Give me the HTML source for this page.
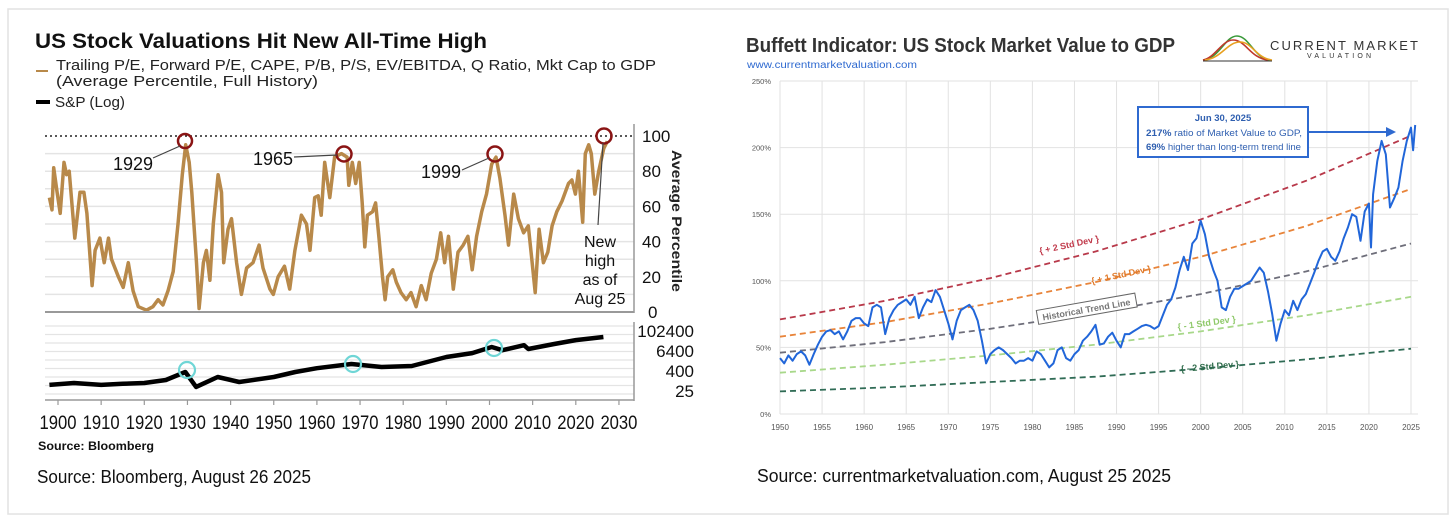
<!DOCTYPE html>
<html><head><meta charset="utf-8">
<style>
html,body{margin:0;padding:0;background:#fff;}
svg{display:block;font-family:"Liberation Sans",sans-serif;}
</style></head>
<body>
<svg id="root" width="1456" height="523" viewBox="0 0 1456 523" xmlns="http://www.w3.org/2000/svg">
  <rect x="8" y="9" width="1440" height="505" fill="#fff" stroke="#e2e2e2" stroke-width="1.5"/>

  <!-- LEFT CHART -->
  <g id="left">
    <text x="35" y="48" font-size="21" font-weight="bold" fill="#111" textLength="452" lengthAdjust="spacingAndGlyphs">US Stock Valuations Hit New All-Time High</text>
    <line x1="36" y1="71" x2="48" y2="71" stroke="#b8894a" stroke-width="2"/>
    <text x="56" y="70" font-size="15" fill="#222" textLength="600" lengthAdjust="spacingAndGlyphs">Trailing P/E, Forward P/E, CAPE, P/B, P/S, EV/EBITDA, Q Ratio, Mkt Cap to GDP</text>
    <text x="56" y="86" font-size="15" fill="#222" textLength="262" lengthAdjust="spacingAndGlyphs">(Average Percentile, Full History)</text>
    <line x1="36" y1="102" x2="50" y2="102" stroke="#000" stroke-width="4"/>
    <text x="55" y="107" font-size="15" fill="#222" textLength="70" lengthAdjust="spacingAndGlyphs">S&amp;P (Log)</text>
    <g id="lgrid"></g>
    <line x1="45" y1="136" x2="634" y2="136" stroke="#222" stroke-width="1.5" stroke-dasharray="2,3"/>
    <path id="pctPath" fill="none" stroke="#b8894a" stroke-width="3.5" stroke-linejoin="round"/>
    <path id="spPath" fill="none" stroke="#000" stroke-width="4.5" stroke-linejoin="round"/>
    <line x1="634" y1="124" x2="634" y2="313" stroke="#999" stroke-width="1.5"/>
    <line x1="45" y1="312" x2="634" y2="312" stroke="#999" stroke-width="2"/>
    <line x1="634" y1="322" x2="634" y2="401" stroke="#999" stroke-width="1.5"/>
    <line x1="45" y1="400" x2="634" y2="400" stroke="#999" stroke-width="1.5"/>
    <g id="lticks"></g>
    <text transform="translate(672,150) rotate(90)" font-size="14" font-weight="bold" fill="#222" textLength="142" lengthAdjust="spacingAndGlyphs">Average Percentile</text>
    <!-- annotations -->
    <circle cx="185" cy="141" r="7" fill="none" stroke="#8a1414" stroke-width="2.5"/>
    <circle cx="344" cy="154" r="7.5" fill="none" stroke="#8a1414" stroke-width="2.5"/>
    <circle cx="495" cy="154" r="7.5" fill="none" stroke="#8a1414" stroke-width="2.5"/>
    <circle cx="604" cy="136" r="7.5" fill="none" stroke="#8a1414" stroke-width="2.5"/>
    <line x1="153" y1="158" x2="180" y2="146" stroke="#444" stroke-width="1.2"/>
    <text x="113" y="170" font-size="18" fill="#111" textLength="40" lengthAdjust="spacingAndGlyphs">1929</text>
    <line x1="294" y1="157" x2="337" y2="155" stroke="#444" stroke-width="1.2"/>
    <text x="253" y="165" font-size="18" fill="#111" textLength="40" lengthAdjust="spacingAndGlyphs">1965</text>
    <line x1="462" y1="170" x2="489" y2="158" stroke="#444" stroke-width="1.2"/>
    <text x="421" y="178" font-size="18" fill="#111" textLength="40" lengthAdjust="spacingAndGlyphs">1999</text>
    <line x1="603" y1="143" x2="598" y2="225" stroke="#444" stroke-width="1.2"/>
    <g font-size="16" fill="#111" text-anchor="middle">
      <text x="600" y="247">New</text><text x="600" y="266">high</text><text x="600" y="285">as of</text><text x="600" y="304">Aug 25</text>
    </g>
    <circle cx="187" cy="370" r="8" fill="none" stroke="#6fd6d6" stroke-width="2.2"/>
    <circle cx="353" cy="364" r="8" fill="none" stroke="#6fd6d6" stroke-width="2.2"/>
    <circle cx="494" cy="348" r="8" fill="none" stroke="#6fd6d6" stroke-width="2.2"/>
    <text x="38" y="450" font-size="12" font-weight="bold" fill="#111" textLength="116" lengthAdjust="spacingAndGlyphs">Source: Bloomberg</text>
    <text x="37" y="483" font-size="18" fill="#111" textLength="274" lengthAdjust="spacingAndGlyphs">Source: Bloomberg, August 26 2025</text>
  </g>

  <!-- RIGHT CHART -->
  <g id="right">
    <text x="746" y="52" font-size="20" font-weight="bold" fill="#333" textLength="429" lengthAdjust="spacingAndGlyphs">Buffett Indicator: US Stock Market Value to GDP</text>
    <text x="747" y="68" font-size="10" fill="#2f6ad0" textLength="170" lengthAdjust="spacingAndGlyphs">www.currentmarketvaluation.com</text>
    <g>
      <path d="M1203,60 C1220,58 1225,36 1237,36 C1249,36 1254,58 1270,60" fill="none" stroke="#3a9a3a" stroke-width="1.6"/>
      <path d="M1203,60 C1215,58 1222,40 1233,40 C1246,40 1250,58 1268,60" fill="none" stroke="#c0392b" stroke-width="1.6"/>
      <path d="M1205,60 C1222,58 1227,42 1240,42 C1252,42 1256,58 1272,60" fill="none" stroke="#e8a020" stroke-width="1.6"/>
      <line x1="1203" y1="61" x2="1272" y2="61" stroke="#333" stroke-width="1"/>
      <text x="1270" y="50" font-size="13" fill="#333" textLength="148" lengthAdjust="spacing">CURRENT MARKET</text>
      <text x="1307" y="58" font-size="7" fill="#333" textLength="64" lengthAdjust="spacing">VALUATION</text>
    </g>
    <g id="rgrid"></g>
    <g id="trends"></g>
    <path id="buffPath" fill="none" stroke="#2166d9" stroke-width="2" stroke-linejoin="round"/>
    <g id="rticks"></g>
    <g font-size="9" font-weight="bold">
      <text transform="translate(1040,254) rotate(-12)" fill="#c0394a">{ + 2 Std Dev }</text>
      <text transform="translate(1092,284) rotate(-12)" fill="#e07a2a">{ + 1 Std Dev }</text>
      <g transform="translate(1040,320) rotate(-10)">
        <rect x="-2" y="-10" width="100" height="14" fill="#fff" stroke="#666" stroke-width="1"/>
        <text x="3" y="1" fill="#777">Historical Trend Line</text>
      </g>
      <text transform="translate(1178,330) rotate(-8)" fill="#8fc96a">{ - 1 Std Dev }</text>
      <text transform="translate(1181,372) rotate(-5)" fill="#2e6b4a">{ - 2 Std Dev }</text>
    </g>
    <rect x="1138" y="107" width="170" height="50" fill="#fff" stroke="#2f6ad0" stroke-width="2"/>
    <g font-size="9.5" fill="#2f5fb0">
      <text x="1223" y="121" text-anchor="middle" font-weight="bold">Jun 30, 2025</text>
      <text x="1146" y="136" textLength="156" lengthAdjust="spacingAndGlyphs"><tspan font-weight="bold">217%</tspan> ratio of Market Value to GDP,</text>
      <text x="1146" y="150" textLength="155" lengthAdjust="spacingAndGlyphs"><tspan font-weight="bold">69%</tspan> higher than long-term trend line</text>
    </g>
    <line x1="1308" y1="132" x2="1388" y2="132" stroke="#2f6ad0" stroke-width="2"/>
    <polygon points="1396,132 1386,127 1386,137" fill="#2f6ad0"/>
    <text x="757" y="482" font-size="18" fill="#111" textLength="414" lengthAdjust="spacingAndGlyphs">Source: currentmarketvaluation.com, August 25 2025</text>
  </g>
</svg>
<script>
// ---------- LEFT CHART DATA ----------
const pctYears = [1898,1898.6,1899,1899.8,1900.5,1901.4,1902,1902.6,1903.9,1905.1,1906,1906.7,1907.9,1908.6,1909.7,1910.7,1911.7,1912.4,1914,1915.1,1916.3,1917.4,1918.6,1920.5,1922,1923.2,1924.3,1925.5,1926.7,1927.8,1928.8,1929.6,1930.4,1931,1931.5,1932.1,1932.7,1933.7,1934.4,1935.2,1936,1937.1,1937.9,1938.4,1939.4,1940.2,1941.4,1942.5,1943.7,1945.2,1946.6,1947.5,1949.1,1949.9,1951,1952.5,1953.7,1954.9,1956.4,1957.6,1958.4,1959.5,1960.3,1961,1961.8,1963,1964.1,1965.7,1967,1967.4,1968.2,1969,1969.8,1970.5,1971.1,1971.7,1972.9,1973.6,1974.4,1975.2,1975.8,1976.4,1977.6,1978.4,1979.5,1980.7,1981.8,1983,1984.2,1985.3,1986.5,1987.7,1988.7,1989.6,1990.5,1991.6,1992.7,1993.9,1995,1996,1997,1998.2,1999.3,2000.5,2001.5,2002.4,2003.6,2004.4,2005.6,2006.7,2007.9,2009,2009.8,2010.6,2011.5,2012.5,2013.5,2014.5,2015.6,2016.8,2018.3,2019.1,2019.9,2020.6,2021.6,2022.2,2023,2023.6,2024.4,2025.3,2026.5,2027.3];
const pctValues = [65,58,82,68,56,85,78,80,42,68,68,56,15,35,42,28,42,30,20,14,28,12,3,1,3,7,4,12,23,50,78,95,85,68,50,28,2,28,35,18,50,78,68,28,47,53,28,10,25,28,38,25,13,10,20,26,13,35,55,50,35,65,66,55,85,65,88,90,88,72,85,73,85,62,37,55,57,62,42,20,7,20,24,17,11,7,11,3,15,7,22,30,45,28,43,13,34,38,43,24,43,57,67,84,88,76,55,38,67,53,45,49,30,11,47,28,34,49,57,63,73,75,67,80,51,90,95,90,67,80,93,97];
const spYears = [1898,1903.7,1910,1915,1920,1925,1929.5,1932,1937,1942,1950,1955,1960,1968,1975,1982,1990,1996,2000.5,2003,2008,2009,2015,2020,2026.4];
const spValues = [58,76,58,68,76,115,348,44,174,87,174,348,592,1054,700,800,2800,4800,11100,7200,14400,8400,16800,29000,44500];
const leftXTicks = [1900,1910,1920,1930,1940,1950,1960,1970,1980,1990,2000,2010,2020,2030];
const pctTicks = [0,20,40,60,80,100];
const spTicks = [25,400,6400,102400];

// ---------- RIGHT CHART DATA ----------
const buffYears = [1950,1950.5,1951,1951.5,1952,1952.5,1953,1953.5,1954,1954.5,1955,1955.5,1956,1956.5,1957,1957.5,1958,1958.5,1959,1959.5,1960,1960.5,1961,1961.5,1962,1962.5,1963,1963.5,1964,1964.5,1965,1965.5,1966,1966.5,1967,1967.5,1968,1968.5,1969,1969.5,1970,1970.5,1971,1971.5,1972,1972.5,1973,1973.5,1974,1974.5,1975,1975.5,1976,1976.5,1977,1977.5,1978,1978.5,1979,1979.5,1980,1980.5,1981,1981.5,1982,1982.5,1983,1983.5,1984,1984.5,1985,1985.5,1986,1986.5,1987,1987.5,1988,1988.5,1989,1989.5,1990,1990.5,1991,1991.5,1992,1992.5,1993,1993.5,1994,1994.5,1995,1995.5,1996,1996.5,1997,1997.5,1998,1998.5,1999,1999.5,2000,2000.5,2001,2001.5,2002,2002.5,2003,2003.5,2004,2004.5,2005,2005.5,2006,2006.5,2007,2007.5,2008,2008.5,2009,2009.5,2010,2010.5,2011,2011.5,2012,2012.5,2013,2013.5,2014,2014.5,2015,2015.5,2016,2016.5,2017,2017.5,2018,2018.5,2019,2019.5,2020,2020.25,2020.5,2021,2021.5,2022,2022.5,2023,2023.5,2024,2024.5,2025,2025.25,2025.5];
const buffValues = [42,38,44,40,45,47,44,37,45,52,58,62,63,60,62,56,62,70,72,72,68,66,80,82,80,60,72,78,82,84,86,82,88,72,80,86,84,93,88,78,68,56,70,78,80,82,78,70,55,38,45,48,50,48,45,42,38,40,40,42,40,47,45,40,35,38,48,50,42,40,45,48,55,58,62,67,52,53,58,61,55,50,60,60,62,64,66,67,66,64,66,74,82,86,95,108,118,108,128,132,145,135,118,108,100,80,78,88,94,94,96,98,100,105,110,106,92,75,55,68,78,74,85,78,86,90,98,106,115,122,124,118,115,122,132,140,150,148,130,152,158,125,165,190,205,195,155,162,170,190,205,215,198,217];
const trendYears = [1950,1962.5,1975,1987.5,2000,2012.5,2025];
const plus2Std = [71,85,102,122,146,175,209];
const plus1Std = [58,69,83,99,118,141,169];
const trendLine = [46,54,64,76,90,107,128];
const minus1Std = [31,37,44,52,62,74,88];
const minus2Std = [17,20,24,28,34,41,49];
const rightXTicks = [1950,1955,1960,1965,1970,1975,1980,1985,1990,1995,2000,2005,2010,2015,2020,2025];
const rightYTicks = [0,50,100,150,200,250];

const NS = 'http://www.w3.org/2000/svg';
function mk(tag, attrs, parent){ const e=document.createElementNS(NS,tag); for(const k in attrs) e.setAttribute(k,attrs[k]); parent.appendChild(e); return e; }

const lx = yr => 58 + (yr-1900)*4.315;
const lyPct = v => 312 - v*1.76;
const lySp = v => 391 - 20*Math.log(v/25)/Math.log(16);

const lgrid = document.getElementById('lgrid');
for(let v=10; v<100; v+=10){
  const l = mk('line',{x1:45,x2:634,y1:lyPct(v),y2:lyPct(v),stroke:'#e4e4e4','stroke-width':1.5},lgrid);
  
  
}
for(let y=326; y<400; y+=8.5){
  const l = mk('line',{x1:45,x2:634,y1:y,y2:y,stroke:'#e4e4e4','stroke-width':1.2},lgrid);
  
  
}
document.getElementById('pctPath').setAttribute('d', pctYears.map((y,i)=>(i?'L':'M')+lx(y).toFixed(1)+','+lyPct(pctValues[i]).toFixed(1)).join(''));
document.getElementById('spPath').setAttribute('d', spYears.map((y,i)=>(i?'L':'M')+lx(y).toFixed(1)+','+lySp(spValues[i]).toFixed(1)).join(''));

const lticks = document.getElementById('lticks');
leftXTicks.forEach(t=>{
  const tl = mk('line',{x1:lx(t),x2:lx(t),y1:400,y2:405,stroke:'#999','stroke-width':1.2},lticks);
  
  
  const tx = mk('text',{x:lx(t),y:429,'font-size':19,'text-anchor':'middle',fill:'#111',textLength:37,lengthAdjust:'spacingAndGlyphs'},lticks);
  tx.textContent = t;
  
  
});
pctTicks.forEach(t=>{
  const tx = mk('text',{x:t===0?648:642,y:lyPct(t)+6,'font-size':17,fill:'#111'},lticks);
  tx.textContent = t;
  
  
});
spTicks.forEach(t=>{
  const tx = mk('text',{x:694,y:lySp(t)+6,'font-size':17,fill:'#111','text-anchor':'end'},lticks);
  tx.textContent = t;
  
  
});

const rx = yr => 780 + (yr-1950)*(631/75);
const ry = v => 414 - v*1.332;
const rgrid = document.getElementById('rgrid');
rightYTicks.forEach(t=>{
  const l = mk('line',{x1:780,x2:1418,y1:ry(t),y2:ry(t),stroke:'#e2e2e2','stroke-width':1},rgrid);
  
  
});
rightXTicks.forEach(t=>{
  const l = mk('line',{x1:rx(t),x2:rx(t),y1:ry(250),y2:ry(0),stroke:'#e2e2e2','stroke-width':1},rgrid);
  
  
});
const trends = document.getElementById('trends');
[[plus2Std,'#b8394a','plus-2-std-line'],[plus1Std,'#e8843a','plus-1-std-line'],[trendLine,'#6e6e7a','historical-trend-line'],[minus1Std,'#a8d88a','minus-1-std-line'],[minus2Std,'#2f6b55','minus-2-std-line']].forEach(([arr,col,name])=>{
  const p = mk('path',{d:trendYears.map((y,i)=>(i?'L':'M')+rx(y).toFixed(1)+','+ry(arr[i]).toFixed(1)).join(''),fill:'none',stroke:col,'stroke-width':1.8,'stroke-dasharray':'6,4'},trends);
  
  
});
document.getElementById('buffPath').setAttribute('d', buffYears.map((y,i)=>(i?'L':'M')+rx(y).toFixed(1)+','+ry(buffValues[i]).toFixed(1)).join(''));
const rticks = document.getElementById('rticks');
rightXTicks.forEach(t=>{
  const tx = mk('text',{x:rx(t),y:430,'font-size':8,'text-anchor':'middle',fill:'#555'},rticks);
  tx.textContent = t;
  
  
});
rightYTicks.forEach(t=>{
  const tx = mk('text',{x:771,y:ry(t)+3,'font-size':7.5,'text-anchor':'end',fill:'#555'},rticks);
  tx.textContent = t+'%';
  
  
});
</script>
</body></html>
